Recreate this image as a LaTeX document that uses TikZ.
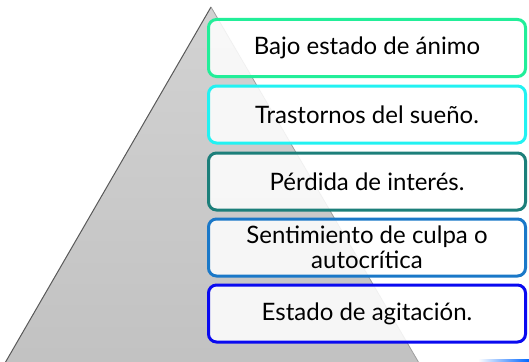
\documentclass[tikz,border=0pt]{standalone}
\usepackage{fontspec}
\setmainfont{Lato}
\definecolor{cA}{RGB}{34,238,153}
\definecolor{cB}{RGB}{34,242,242}
\definecolor{cC}{RGB}{28,127,122}
\definecolor{cD}{RGB}{26,120,200}
\definecolor{cE}{RGB}{10,10,240}
\begin{document}
\begin{tikzpicture}[x=1pt,y=-1pt,
  lvl/.style={draw=#1, line width=3pt, rounded corners=8pt, fill=white, fill opacity=0.85, text opacity=1,
    minimum width=317pt, minimum height=57pt, inner sep=0pt, align=center,
    font=\fontsize{24}{25}\selectfont, text=black}]
\useasboundingbox (0,0) rectangle (529,361);
\clip (0,0) rectangle (529,361);
% pyramid
\shade[top color=gray!35, bottom color=gray!48] (211,7) -- (5,363) -- (419,363) -- cycle;
\draw[gray!70!black, line width=1pt] (5,363) -- (211,7);
\draw[gray!75, line width=0.8pt] (211,7) -- (419,363);
% cut-off next box top
\shade[left color=white, right color=blue!60!cyan] (478,359) rectangle (529,362);
% levels
\node[lvl=cA] (n1) at (367,48) {Bajo estado de ánimo};
\node[lvl=cB] (n2) at (367,114.5) {Trastornos del sueño.};
\node[lvl=cC] (n3) at (367,181.5) {Pérdida de interés.};
\node[lvl=cD] (n4) at (367,247.5) {Sentimiento de culpa o\\autocrítica};
\node[lvl=cE] (n5) at (367,313.5) {Estado de agitación.};
\end{tikzpicture}
\end{document}
